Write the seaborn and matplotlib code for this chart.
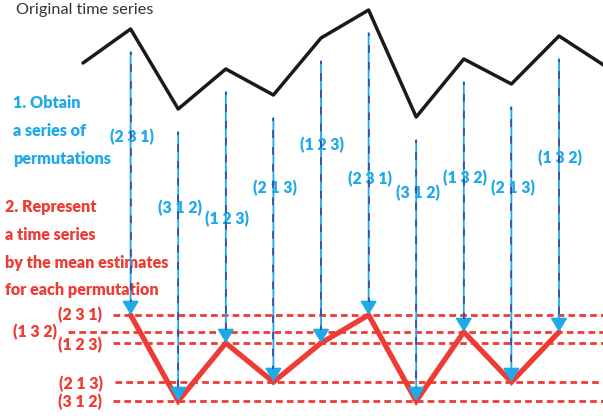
import matplotlib
matplotlib.use("Agg")
import numpy as np
import pandas as pd
import seaborn as sns
import matplotlib.pyplot as plt

# original series (value = height in the picture)
time_idx = list(range(12))
orig_values = [353, 387, 307, 347, 321, 378, 406, 299, 357, 332, 380, 349]

# permutation levels (mean estimate of each permutation)
perm_names = ["(2 3 1)", "(1 3 2)", "(1 2 3)", "(2 1 3)", "(3 1 2)"]
perm_means = [101, 84, 73, 34, 15]

# permutation seen at each time step t = 1..10
perm_time = list(range(1, 11))
perm_seq = ["(2 3 1)", "(3 1 2)", "(1 2 3)", "(2 1 3)", "(1 2 3)",
            "(2 3 1)", "(3 1 2)", "(1 3 2)", "(2 1 3)", "(1 3 2)"]

# label heights for the permutation labels along the arrows (picture px from top)
label_y_px = [137, 208, 219, 188, 145, 179, 193, 178, 188, 158]

BLUE = "#1ea9e8"
NAVY = "#3d3a96"
RED = "#ee3b34"

sns.set_theme(style="white")
plt.rcParams["font.family"] = ["Lato", "DejaVu Sans"]

fig = plt.figure(figsize=(6.03, 4.16), dpi=100)
ax = fig.add_axes([0, 0, 1, 1])
ax.set_axis_off()

W, H = 603, 416
step = 47.6
x0 = 83
ax.set_xlim(-x0 / step, (W - x0) / step)
ax.set_ylim(0, H)

level = dict(zip(perm_names, perm_means))
df_orig = pd.DataFrame({"t": time_idx, "value": orig_values})
df_perm = pd.DataFrame({"t": perm_time, "perm": perm_seq})
df_perm["mean"] = df_perm["perm"].map(level)

# dashed horizontal level lines
line_start_px = [113, 68, 113, 115, 113]
for name, m, xs in zip(perm_names, perm_means, line_start_px):
    ax.axhline(m, xmin=xs / W, xmax=1, color=RED, lw=2.0,
               ls=(0, (2.4, 1.5)), zorder=1)

# original series
sns.lineplot(data=df_orig, x="t", y="value", color="#1a1a1a", lw=2.5,
             ax=ax, zorder=3)

# red series of mean estimates
sns.lineplot(data=df_perm, x="t", y="mean", color=RED, lw=3.8,
             ax=ax, zorder=3, solid_joinstyle="miter")

# arrows from the original series down to the mean estimate
gap = 23
orig_map = dict(zip(time_idx, orig_values))
for t, m in zip(df_perm["t"], df_perm["mean"]):
    top = orig_map[t] - gap
    ax.annotate("", xy=(t, m), xytext=(t, top),
                arrowprops=dict(arrowstyle="-|>,head_length=0.6,head_width=0.36",
                                color=BLUE, lw=1.3, shrinkA=0, shrinkB=0,
                                mutation_scale=14), zorder=5)
    ax.plot([t, t], [top, m + 13], color=NAVY, lw=1.1,
            ls=(3, (5, 6)), zorder=6)

# permutation labels along the arrows
for t, p, ypx in zip(perm_time, perm_seq, label_y_px):
    ax.text(t + 0.03, H - ypx, p, color=BLUE, fontsize=11.4, fontweight=800,
            ha="center", va="center", zorder=2)

# labels for the levels on the left
left_lab_x = [102, 57, 102, 103, 102]
left_lab_y = [315, 332, 345, 384, 402]
for name, xr, ypx in zip(perm_names, left_lab_x, left_lab_y):
    ax.text(xr / step - x0 / step, H - ypx, name, color=RED, fontsize=11.4,
            fontweight=800, ha="right", va="center", zorder=2)

tr = ax.transAxes
ax.text(16 / W, 1 - 10 / H, "Original time series", color="#333333",
        fontsize=11.7, ha="left", va="center", transform=tr)

blue_lines = ["1. Obtain", "a series of", "permutations"]
for s, ypx in zip(blue_lines, [103, 131, 159]):
    ax.text(13 / W, 1 - ypx / H, s, color=BLUE, fontsize=11.6,
            fontweight=800, ha="left", va="center", transform=tr)

red_lines = ["2. Represent", "a time series", "by the mean estimates",
             "for each permutation"]
for s, ypx in zip(red_lines, [207, 235, 263, 290]):
    ax.text(5 / W, 1 - ypx / H, s, color=RED, fontsize=11.6,
            fontweight=800, ha="left", va="center", transform=tr)

fig.savefig("out.png", dpi=100)
